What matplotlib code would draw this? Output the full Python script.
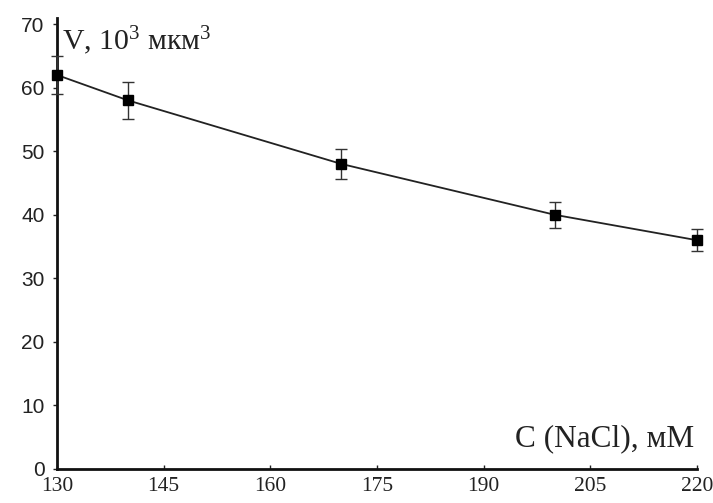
import numpy as np
import matplotlib.pyplot as plt

plt.rcParams['mathtext.fontset'] = 'custom'
plt.rcParams['mathtext.rm'] = 'Liberation Serif'
plt.rcParams['mathtext.it'] = 'Liberation Serif:italic'

conc = [130, 140, 170, 200, 220]
volume = [62, 58, 48, 40, 36]
err = [3.0, 2.9, 2.3, 2.0, 1.7]

xticks = [130, 145, 160, 175, 190, 205, 220]
yticks = [0, 10, 20, 30, 40, 50, 60, 70]

fig = plt.figure(figsize=(7.13, 5.03), dpi=100)
ax = fig.add_axes([0.080, 0.0676, 0.8976, 0.897])

ax.plot(conc, volume, color='#222222', lw=1.3, zorder=2)
ax.errorbar(conc, volume, yerr=err, fmt='s', color='black', ms=7,
            ecolor='#333333', elinewidth=1.0, capsize=4, capthick=1.0,
            zorder=3, clip_on=False)

ax.set_xlim(130, 220)
ax.set_ylim(0, 71)
ax.set_xticks(xticks)
ax.set_yticks(yticks)

ax.spines['top'].set_visible(False)
ax.spines['right'].set_visible(False)
ax.spines['left'].set_linewidth(2)
ax.spines['bottom'].set_linewidth(2)
ax.spines['left'].set_color('#111111')
ax.spines['bottom'].set_color('#111111')

ax.tick_params(axis='y', direction='out', length=3, width=1, pad=6,
               labelsize=15, colors='#222222')
ax.tick_params(axis='x', direction='in', length=3, width=1, pad=6,
               labelsize=15.5, colors='#222222')
for lab in ax.get_xticklabels():
    lab.set_fontfamily('Liberation Serif')
for lab in ax.get_yticklabels():
    lab.set_fontfamily('Liberation Sans')

ax.text(0.008, 0.985, r'V, 10$\mathregular{^3}$ мкм$\mathregular{^3}$',
        transform=ax.transAxes, ha='left', va='top', fontsize=21.5,
        family='Liberation Serif', color='#222222')
ax.text(0.995, 0.035, 'C (NaCl), мМ', transform=ax.transAxes,
        ha='right', va='bottom', fontsize=22.5, family='Liberation Serif',
        color='#222222')

fig.savefig('out.png', dpi=100)
